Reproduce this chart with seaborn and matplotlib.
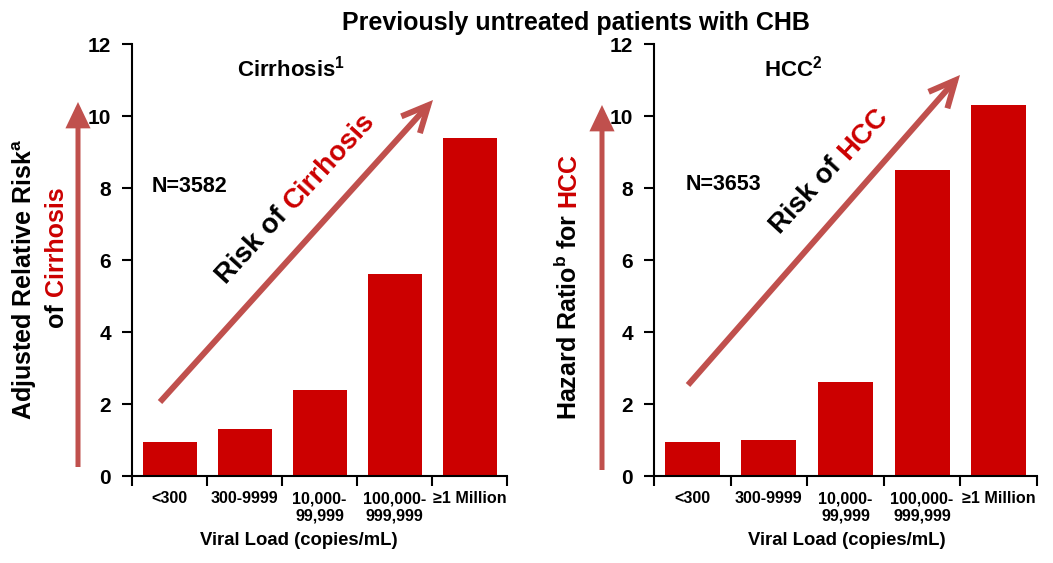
import numpy as np
import pandas as pd
import matplotlib
matplotlib.use("Agg")
import matplotlib.pyplot as plt
import seaborn as sns
from matplotlib.patches import FancyArrowPatch, ArrowStyle

# data
categories = ["<300", "300-9999", "10,000-\n99,999", "100,000-\n999,999", "≥1 Million"]
cirrhosis_risk = [0.94, 1.3, 2.4, 5.6, 9.4]
hcc_ratio = [0.94, 1.0, 2.6, 8.5, 10.3]
y_ticks = [0, 2, 4, 6, 8, 10, 12]

BAR = "#CC0000"
ARROW = "#C0504D"
RED_TXT = "#CC0000"

sns.set_style("ticks")
plt.rcParams["font.family"] = ["Liberation Sans", "DejaVu Sans"]
plt.rcParams["font.weight"] = "bold"
plt.rcParams["text.color"] = "black"
plt.rcParams["axes.labelcolor"] = "black"
plt.rcParams["xtick.color"] = "black"
plt.rcParams["ytick.color"] = "black"
plt.rcParams["mathtext.fontset"] = "custom"
plt.rcParams["mathtext.rm"] = "Liberation Sans:bold"
plt.rcParams["mathtext.bf"] = "Liberation Sans:bold"
plt.rcParams["mathtext.it"] = "Liberation Sans:bold"

W, H = 1053, 563
fig = plt.figure(figsize=(W / 100, H / 100), dpi=100)


def fx(x):
    return x / W


def fy(y):
    return 1 - y / H


ax1 = fig.add_axes([fx(132), fy(476), 375 / W, 432 / H])
ax2 = fig.add_axes([fx(654), fy(476), 383 / W, 432 / H])

df = pd.DataFrame({"load": categories, "cirrhosis": cirrhosis_risk, "hcc": hcc_ratio})

for ax, col in [(ax1, "cirrhosis"), (ax2, "hcc")]:
    sns.barplot(data=df, x="load", y=col, color=BAR, saturation=1, width=0.72,
                linewidth=0, ax=ax)
    ax.set_xlim(-0.5, 4.5)
    ax.set_ylim(0, 12)
    ax.set_yticks(y_ticks)
    ax.set_xticks(np.arange(-0.5, 5, 1), minor=True)
    ax.tick_params(axis="x", which="major", length=0, pad=11, labelsize=11.6)
    ax.tick_params(axis="x", which="minor", length=7, width=1.5, direction="out")
    ax.tick_params(axis="y", length=7, width=1.5, direction="out", labelsize=15, pad=8)
    for lab in ax.get_xticklabels() + ax.get_yticklabels():
        lab.set_fontweight("bold")
    sns.despine(ax=ax)
    for s in ["left", "bottom"]:
        ax.spines[s].set_linewidth(1.5)
        ax.spines[s].set_color("black")
    ax.set_ylabel("")
    ax.set_xlabel("Viral Load (copies/mL)", fontsize=13.3, fontweight="bold")

ax1.xaxis.set_label_coords((299 - 132) / 375, -(532 - 476) / 432)
ax2.xaxis.set_label_coords((847 - 654) / 383, -(532 - 476) / 432)

# titles
fig.text(fx(576), fy(23), "Previously untreated patients with CHB", fontsize=18,
         fontweight="bold", ha="center", va="center")
fig.text(fx(291), fy(69), r"Cirrhosis$^\mathbf{1}$", fontsize=16, ha="center", va="center")
fig.text(fx(793), fy(69), r"HCC$^\mathbf{2}$", fontsize=16, ha="center", va="center")
fig.text(fx(152), fy(186), "N=3582", fontsize=15.5, ha="left", va="center")
fig.text(fx(686), fy(185), "N=3653", fontsize=15.5, ha="left", va="center")

# y labels (rotated, two colours)
fig.text(fx(25), fy(279), r"Adjusted Relative Risk$^\mathbf{a}$", fontsize=18,
         rotation=90, ha="center", va="center")
t_of = fig.text(fx(56), fy(327), "of", fontsize=18, rotation=90, ha="center", va="bottom")
plt.annotate("Cirrhosis", xy=(0.5, 1), xycoords=t_of, xytext=(0, 5),
             textcoords="offset points", fontsize=18, rotation=90, ha="center",
             va="bottom", color=RED_TXT, fontweight="bold", annotation_clip=False)

t_hr = fig.text(fx(568), fy(420), r"Hazard Ratio$^\mathbf{b}$ for", fontsize=18,
                rotation=90, ha="center", va="bottom")
plt.annotate("HCC", xy=(0.5, 1), xycoords=t_hr, xytext=(0, 5),
             textcoords="offset points", fontsize=18, rotation=90, ha="center",
             va="bottom", color=RED_TXT, fontweight="bold", annotation_clip=False)


# arrows
def arrow(x0, y0, x1, y1, style, lw):
    a = FancyArrowPatch((fx(x0), fy(y0)), (fx(x1), fy(y1)), transform=fig.transFigure,
                        arrowstyle=style, mutation_scale=10, color=ARROW, lw=lw,
                        shrinkA=0, shrinkB=0, capstyle="butt", joinstyle="miter")
    fig.add_artist(a)


vert = ArrowStyle("-|>", head_length=1.3, head_width=0.62)
arrow(78, 467, 78, 102, vert, 3.6)
arrow(602, 470, 602, 105, vert, 3.6)
diag = ArrowStyle("->", head_length=1.9, head_width=0.9)
arrow(160, 402, 433, 100, diag, 4.3)
arrow(688, 385, 960, 75, diag, 4.3)

# diagonal multi-colour labels
fig.canvas.draw()
renderer = fig.canvas.get_renderer()


def text_width(s, size):
    t = fig.text(0, 0, s, fontsize=size, fontweight="bold")
    w = t.get_window_extent(renderer).width
    t.remove()
    return w


def diag_label(x, y, angle, parts, size):
    ox, oy = x, H - y
    th = np.deg2rad(angle)
    space = text_width("a a", size) - text_width("aa", size)
    for s, c in parts:
        fig.text(ox / W, oy / H, s, color=c, fontsize=size, fontweight="bold",
                 rotation=angle, rotation_mode="anchor", ha="left", va="baseline")
        w = text_width(s, size) + space
        ox += w * np.cos(th)
        oy += w * np.sin(th)


diag_label(226, 285, 47.5, [("Risk of", "black"), ("Cirrhosis", RED_TXT)], 20)
diag_label(780, 235, 47.5, [("Risk of", "black"), ("HCC", RED_TXT)], 20)

fig.savefig("out.png", dpi=100)
